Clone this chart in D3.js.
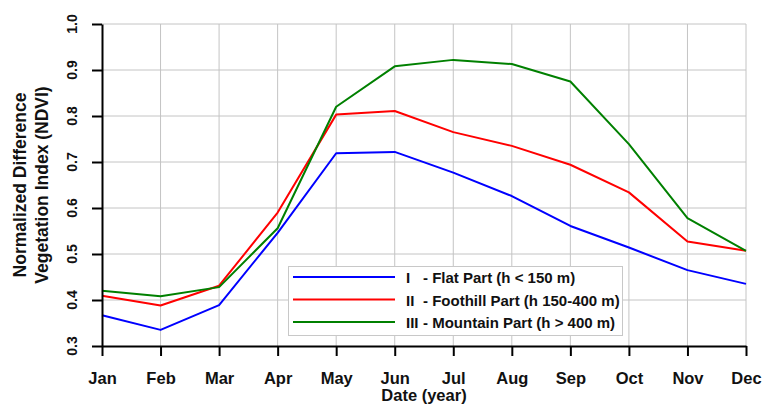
<!DOCTYPE html>
<html>
<head>
<meta charset="utf-8">
<script src="https://cdn.jsdelivr.net/npm/d3@7"></script>
<style>
  html, body { margin: 0; padding: 0; background: #fff; }
  svg { display: block; font-family: "Liberation Sans", Arial, sans-serif; font-weight: bold; }
</style>
</head>
<body>
<svg id="chart" width="763" height="405"></svg>
<script>
const months = ["Jan","Feb","Mar","Apr","May","Jun","Jul","Aug","Sep","Oct","Nov","Dec"];
const flatPart     = [0.367,0.335,0.389,0.546,0.719,0.722,0.677,0.626,0.561,0.514,0.465,0.435];
const foothillPart = [0.409,0.388,0.431,0.590,0.803,0.811,0.765,0.735,0.694,0.634,0.527,0.507];
const mountainPart = [0.420,0.408,0.428,0.556,0.820,0.908,0.922,0.913,0.875,0.739,0.578,0.507];
const yTicks = [0.3,0.4,0.5,0.6,0.7,0.8,0.9,1.0];
const seriesNames = ["I", "II", "III"];
const seriesLabels = ["- Flat Part (h < 150 m)", "- Foothill Part (h 150-400 m)", "- Mountain Part (h > 400 m)"];
const seriesColors = ["#0000ff", "#ff0000", "#008000"];
const seriesData = [flatPart, foothillPart, mountainPart];

const FONT = '"Liberation Sans", Arial, sans-serif';
const svg = d3.select("#chart");
const x = d3.scalePoint().domain(months).range([102, 746]).padding(0);
const y = d3.scaleLinear().domain([0.3, 1.0]).range([346, 24]);

// grid
const grid = svg.append("g");
grid.selectAll("line.h").data(yTicks.slice(1)).enter().append("line")
  .attr("x1", x("Jan")).attr("x2", x("Dec"))
  .attr("y1", d => y(d)).attr("y2", d => y(d))
  .attr("stroke", "#c4c4c4").attr("stroke-width", 1);
grid.selectAll("line.v").data(months.slice(1)).enter().append("line")
  .attr("x1", d => x(d)).attr("x2", d => x(d))
  .attr("y1", y(1.0)).attr("y2", y(0.3))
  .attr("stroke", "#c4c4c4").attr("stroke-width", 1);

// lines
const line = d3.line().x((d, i) => x(months[i])).y(d => y(d));
seriesData.forEach((s, k) => {
  svg.append("path").datum(s)
    .attr("d", line)
    .attr("fill", "none")
    .attr("stroke", seriesColors[k])
    .attr("stroke-width", 2)
    .attr("stroke-linejoin", "round");
});

// axes
const xAxis = svg.append("g").attr("transform", `translate(0,${y(0.3)})`)
  .call(d3.axisBottom(x).tickSize(10).tickSizeOuter(0).tickPadding(16));
const yAxis = svg.append("g").attr("transform", `translate(${x("Jan")},0)`)
  .call(d3.axisLeft(y).tickValues(yTicks).tickFormat("").tickSize(10).tickSizeOuter(0));
[xAxis, yAxis].forEach(a => {
  a.select(".domain").attr("stroke", "#000").attr("stroke-width", 2);
  a.selectAll(".tick line").attr("stroke", "#000").attr("stroke-width", 2);
});
xAxis.selectAll(".tick text")
  .attr("font-size", 16.5).attr("font-weight", "bold").attr("fill", "#111")
  .attr("font-family", FONT);

// y tick labels (rotated)
svg.append("g").selectAll("g").data(yTicks).enter().append("g")
  .attr("transform", d => `translate(77,${y(d)})`)
  .append("text")
  .attr("transform", "rotate(-90)")
  .attr("text-anchor", "middle")
  .attr("font-family", FONT).attr("font-weight", "bold")
  .attr("font-size", 14).attr("fill", "#111")
  .text(d => d3.format(".1f")(d));

// axis titles
svg.append("text").attr("x", 424).attr("y", 400.5)
  .attr("text-anchor", "middle").attr("font-size", 16.5).attr("fill", "#111")
  .text("Date (year)");
const yt = svg.append("text").attr("transform", "translate(26,185) rotate(-90)")
  .attr("text-anchor", "middle").attr("font-size", 17.5).attr("fill", "#111");
yt.append("tspan").attr("x", 0).attr("y", 0).text("Normalized Difference");
yt.append("tspan").attr("x", 0).attr("y", 22).text("Vegetation Index (NDVI)");

// legend
const lg = svg.append("g");
lg.append("rect").attr("x", 288.5).attr("y", 266.5).attr("width", 334).attr("height", 69)
  .attr("fill", "#fff").attr("stroke", "#c8c8c8").attr("stroke-width", 1);
const rowsY = [277, 299.5, 322];
seriesNames.forEach((n, k) => {
  lg.append("line").attr("x1", 293).attr("x2", 395)
    .attr("y1", rowsY[k]).attr("y2", rowsY[k])
    .attr("stroke", seriesColors[k]).attr("stroke-width", 2);
  lg.append("text").attr("x", 406).attr("y", rowsY[k] + 6)
    .attr("font-size", 15).attr("fill", "#111").text(n);
  lg.append("text").attr("x", 423).attr("y", rowsY[k] + 6)
    .attr("font-size", 15).attr("fill", "#111").text(seriesLabels[k]);
});
</script>
</body>
</html>
